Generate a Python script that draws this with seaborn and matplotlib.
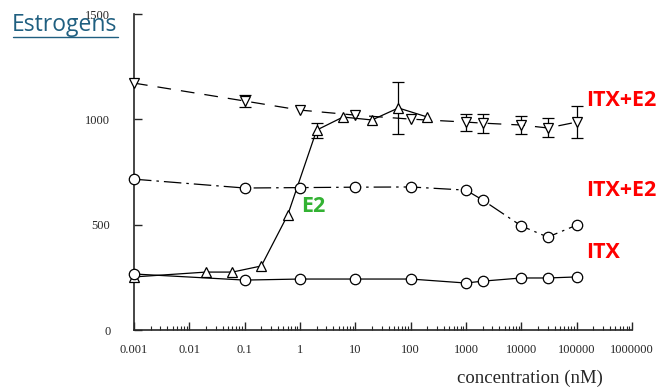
import numpy as np
import pandas as pd
import seaborn as sns
import matplotlib.pyplot as plt
from matplotlib.lines import Line2D
from matplotlib.ticker import LogLocator, NullFormatter

# concentrations (nM)
conc_itx_e2_top = [0.001, 0.1, 1, 10, 100, 1000, 2000, 10000, 30000, 100000]
val_itx_e2_top = [1172, 1087, 1044, 1020, 1001, 987, 982, 973, 959, 987]
err_itx_e2_top = [0, 30, 0, 0, 0, 40, 45, 42, 45, 76]

conc_e2 = [0.001, 0.02, 0.06, 0.2, 0.6, 2, 6, 20, 60, 200]
val_e2 = [252, 275, 275, 304, 546, 949, 1011, 997, 1054, 1011]
err_e2 = [0, 0, 0, 0, 0, 36, 0, 0, 124, 0]

conc_itx_e2_mid = [0.001, 0.1, 1, 10, 100, 1000, 2000, 10000, 30000, 100000]
val_itx_e2_mid = [716, 674, 676, 678, 679, 664, 617, 494, 441, 498]

conc_itx = [0.001, 0.1, 1, 10, 100, 1000, 2000, 10000, 30000, 100000]
val_itx = [266, 237, 242, 242, 242, 223, 232, 247, 247, 252]

xtick_vals = [0.001, 0.01, 0.1, 1, 10, 100, 1000, 10000, 100000, 1000000]
xtick_labels = ["0.001", "0.01", "0.1", "1", "10", "100", "1000", "10000", "100000", "1000000"]
ytick_vals = [0, 500, 1000, 1500]

sns.set_style("ticks")
plt.rcParams["font.family"] = ["Liberation Serif", "DejaVu Serif"]

fig = plt.figure(figsize=(6.62, 3.9), dpi=100)
ax = fig.add_axes([0.2024, 0.1538, 0.7523, 0.8103])

series = [
    (conc_itx_e2_top, val_itx_e2_top, err_itx_e2_top, "v", (0, (11, 8))),
    (conc_e2, val_e2, err_e2, "^", "-"),
    (conc_itx_e2_mid, val_itx_e2_mid, None, "o", (0, (14, 4, 2, 4))),
    (conc_itx, val_itx, None, "o", "-"),
]

for x, y, err, mk, ls in series:
    sns.lineplot(x=x, y=y, ax=ax, color="black", lw=0.9, sort=False,
                 marker=mk, markersize=7.5, markerfacecolor="white",
                 markeredgecolor="black", markeredgewidth=0.9,
                 linestyle=ls, clip_on=False, zorder=3)
    if err is not None:
        df = pd.DataFrame({"x": x, "y": y, "e": err})
        df = df[df.e > 0]
        ax.errorbar(df.x, df.y, yerr=df.e, fmt="none", ecolor="black",
                    elinewidth=0.9, capsize=4, capthick=0.9, zorder=2)

ax.set_xscale("log")
ax.set_xlim(0.001, 1000000)
ax.set_ylim(0, 1500)
ax.set_xticks(xtick_vals)
ax.set_xticklabels(xtick_labels)
ax.xaxis.set_minor_locator(LogLocator(base=10, subs=np.arange(2, 10)))
ax.xaxis.set_minor_formatter(NullFormatter())
ax.set_yticks(ytick_vals)
ax.tick_params(axis="both", which="major", direction="in", length=6,
               width=1, labelsize=9)
ax.tick_params(axis="x", which="minor", direction="in", length=3, width=0.8)
ax.tick_params(axis="x", pad=10)
ax.tick_params(axis="y", pad=17)
for s in ["top", "right"]:
    ax.spines[s].set_visible(False)
for s in ["left", "bottom"]:
    ax.spines[s].set_linewidth(1.2)
ax.set_xlabel("")
ax.set_ylabel("")

fig.text(0.911, 0.008, "concentration (nM)", ha="right", va="bottom", fontsize=13.5)

lab = dict(family=["Open Sans", "DejaVu Sans"], fontweight="bold", fontsize=15.5)
ax.text(586 / 662, 1 - 100 / 390, "ITX+E2", transform=fig.transFigure, color="#FF0000",
        va="center", ha="left", **lab)
ax.text(586 / 662, 1 - 190 / 390, "ITX+E2", transform=fig.transFigure, color="#FF0000",
        va="center", ha="left", **lab)
ax.text(586 / 662, 1 - 253 / 390, "ITX", transform=fig.transFigure, color="#FF0000",
        va="center", ha="left", **lab)
ax.text(301 / 662, 1 - 207 / 390, "E2", transform=fig.transFigure, color="#33B233",
        va="center", ha="left", **lab)

fig.text(12 / 662, 1 - 25 / 390, "Estrogens", family=["Open Sans", "DejaVu Sans"],
         fontsize=16.5, color="#1F5F80", va="center", ha="left")
fig.add_artist(Line2D([13 / 662, 118 / 662], [1 - 37 / 390, 1 - 37 / 390],
                      transform=fig.transFigure, color="#1F5F80", lw=1))

fig.savefig("out.png", dpi=100)
